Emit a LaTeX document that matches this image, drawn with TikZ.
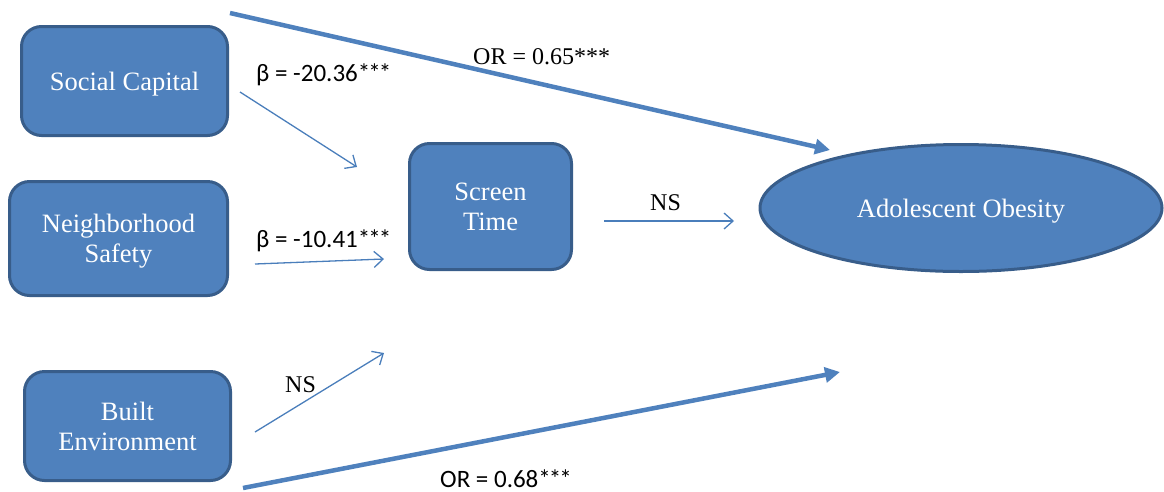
\documentclass[tikz,border=0pt]{standalone}
\usepackage{fontspec}
\setmainfont{Liberation Serif}
\newfontfamily\calib{Carlito}
\usetikzlibrary{arrows.meta,shapes.geometric}
\definecolor{boxfill}{HTML}{4F81BD}
\definecolor{boxline}{HTML}{385D8A}
\definecolor{arrowc}{HTML}{4A7EBB}
\newcommand{\stars}{*\kern-2pt*\kern-2pt*}
\begin{document}
\begin{tikzpicture}[x=1pt,y=-1pt,
  box/.style={draw=boxline, line width=3pt, fill=boxfill, rounded corners=20pt,
    text=white, font=\fontsize{26.5}{30}\selectfont, align=center, inner sep=0pt, text depth=0pt},
  oval/.style={ellipse, draw=boxline, line width=3pt, fill=boxfill, text=white,
    font=\fontsize{26.5}{30}\selectfont, inner sep=0pt, text depth=0pt},
  thinarrow/.style={draw=arrowc, line width=1.3pt, -{Straight Barb[length=9pt,width=16pt]}},
  thickarrow/.style={draw=boxfill, line width=4.5pt, -{Triangle[length=15pt,width=15pt]}},
  serlab/.style={font=\fontsize{24}{28}\selectfont, anchor=base west, inner sep=0pt},
  sanslab/.style={font=\calib\fontsize{25}{28}\selectfont, anchor=base west, inner sep=0pt}]
\useasboundingbox (0,0) rectangle (1164,491);

% boxes
\node[box, minimum width=206pt, minimum height=109pt] (social) at (124.5,81) {Social Capital};
\node[box, minimum width=218pt, minimum height=114pt] (safety) at (118.5,238.5) {Neighborhood\\Safety};
\node[box, minimum width=206pt, minimum height=109pt] (built) at (127.5,426) {Built\\Environment};
\node[box, minimum width=162pt, minimum height=126pt] (screen) at (490.5,206.5) {Screen\\Time};
\node[oval, minimum width=402pt, minimum height=127pt] (obesity) at (961,208) {Adolescent Obesity};

% arrow end points
\coordinate (sc1) at (240,92);   \coordinate (sc2) at (357,167);
\coordinate (ns1) at (255,264);  \coordinate (ns2) at (384,259);
\coordinate (be1) at (255,432);  \coordinate (be2) at (384,353);
\coordinate (st1) at (604,221);  \coordinate (st2) at (734,221);
\coordinate (or1) at (230,13);   \coordinate (or2) at (830,150);
\coordinate (ob1) at (243,488);  \coordinate (ob2) at (840,372);

% connectors
\draw[thinarrow] (sc1) -- (sc2);
\draw[thinarrow] (ns1) -- (ns2);
\draw[thinarrow] (be1) -- (be2);
\draw[thinarrow] (st1) -- (st2);
\draw[thickarrow] (or1) -- (or2);
\draw[thickarrow] (ob1) -- (ob2);

% labels
\node[sanslab] (l1) at (256,81) {β = -20.36\stars};
\node[sanslab] (l2) at (256,247) {β = -10.41\stars};
\node[serlab] (l3) at (473,64) {OR = 0.65***};
\node[serlab] (l4) at (650,210) {NS};
\node[serlab] (l5) at (285,392) {NS};
\node[sanslab] (l6) at (440,487) {OR = 0.68\stars};
\end{tikzpicture}
\end{document}
